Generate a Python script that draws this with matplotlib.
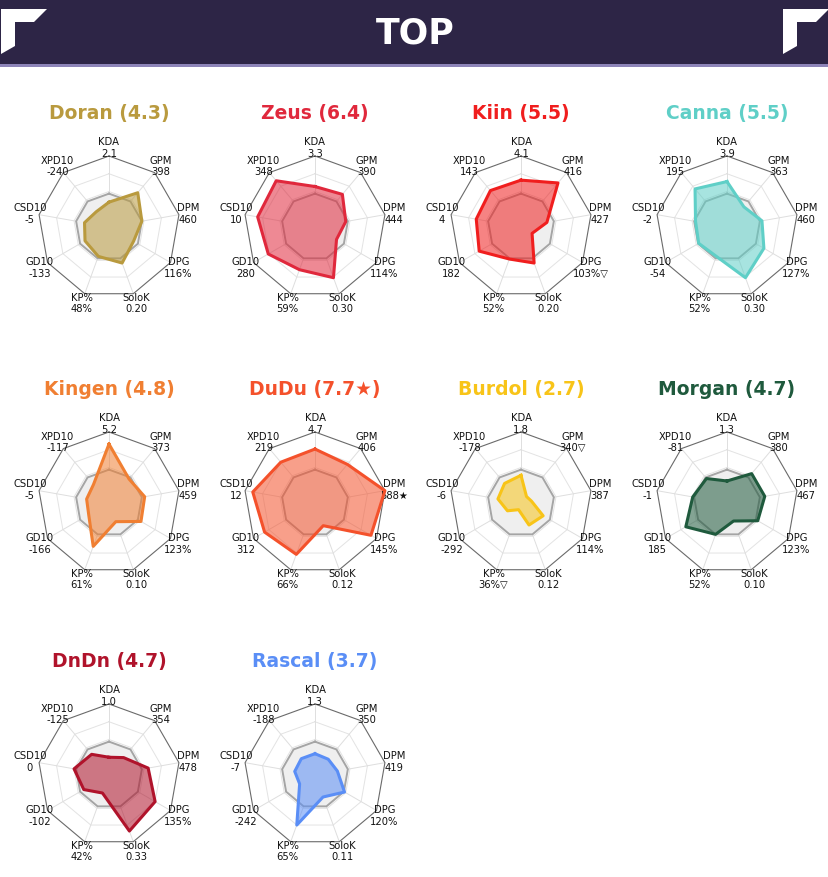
import numpy as np
import matplotlib.pyplot as plt
from matplotlib.patches import Polygon, Rectangle

# stat axes, clockwise from the top
stats = ['KDA', 'GPM', 'DPM', 'DPG', 'SoloK', 'KP%', 'GD10', 'CSD10', 'XPD10']

players = ['Doran', 'Zeus', 'Kiin', 'Canna', 'Kingen', 'DuDu', 'Burdol', 'Morgan', 'DnDn', 'Rascal']
scores = ['4.3', '6.4', '5.5', '5.5', '4.8', '7.7★', '2.7', '4.7', '4.7', '3.7']
colors = ['#b99a3e', '#e0283c', '#f01e1e', '#5fcfc7', '#f07f32',
          '#f4512b', '#f8c418', '#1f5a3d', '#b0132b', '#5a8ef6']

# raw stat values shown under each axis label
doran_vals = ['2.1', '398', '460', '116%', '0.20', '48%', '-133', '-5', '-240']
zeus_vals = ['3.3', '390', '444', '114%', '0.30', '59%', '280', '10', '348']
kiin_vals = ['4.1', '416', '427', '103%▽', '0.20', '52%', '182', '4', '143']
canna_vals = ['3.9', '363', '460', '127%', '0.30', '52%', '-54', '-2', '195']
kingen_vals = ['5.2', '373', '459', '123%', '0.10', '61%', '-166', '-5', '-117']
dudu_vals = ['4.7', '406', '588★', '145%', '0.12', '66%', '312', '12', '219']
burdol_vals = ['1.8', '340▽', '387', '114%', '0.12', '36%▽', '-292', '-6', '-178']
morgan_vals = ['1.3', '380', '467', '123%', '0.10', '52%', '185', '-1', '-81']
dndn_vals = ['1.0', '354', '478', '135%', '0.33', '42%', '-102', '0', '-125']
rascal_vals = ['1.3', '350', '419', '120%', '0.11', '65%', '-242', '-7', '-188']

# normalised radii (0..1)
doran_r = [0.35, 0.63, 0.47, 0.40, 0.54, 0.44, 0.39, 0.35, 0.28]
zeus_r = [0.57, 0.60, 0.44, 0.35, 0.76, 0.64, 0.76, 0.82, 0.85]
kiin_r = [0.66, 0.81, 0.37, 0.18, 0.54, 0.48, 0.68, 0.64, 0.67]
canna_r = [0.64, 0.37, 0.50, 0.60, 0.76, 0.44, 0.46, 0.45, 0.70]
kingen_r = [0.83, 0.44, 0.51, 0.52, 0.28, 0.65, 0.33, 0.32, 0.34]
dudu_r = [0.76, 0.71, 1.00, 0.91, 0.34, 0.77, 0.82, 0.89, 0.75]
burdol_r = [0.39, 0.12, 0.15, 0.36, 0.33, 0.10, 0.22, 0.33, 0.36]
morgan_r = [0.31, 0.54, 0.54, 0.50, 0.27, 0.47, 0.67, 0.49, 0.45]
dndn_r = [0.25, 0.32, 0.56, 0.75, 0.84, 0.27, 0.41, 0.50, 0.38]
rascal_r = [0.30, 0.29, 0.32, 0.48, 0.33, 0.75, 0.25, 0.29, 0.30]

all_vals = [doran_vals, zeus_vals, kiin_vals, canna_vals, kingen_vals,
            dudu_vals, burdol_vals, morgan_vals, dndn_vals, rascal_vals]
all_r = [doran_r, zeus_r, kiin_r, canna_r, kingen_r,
         dudu_r, burdol_r, morgan_r, dndn_r, rascal_r]

AVG = 0.47  # league average ring

W, H = 829, 878
R = 71
col_x = [109, 315, 521, 727]
row_y = [228, 504, 776]

fig = plt.figure(figsize=(W / 100, H / 100), dpi=100)

# background / header
bg = fig.add_axes([0, 0, 1, 1])
bg.set_xlim(0, W)
bg.set_ylim(H, 0)
bg.axis('off')
bg.add_patch(Rectangle((0, 0), W, 66, color='#2d2546', lw=0))
bg.add_patch(Rectangle((0, 65), W, 3, color='#8d84b8', lw=0))
for x0 in (1, 783):
    pts = [(x0, 10), (x0 + 46, 10), (x0 + 33, 23), (x0 + 14, 23),
           (x0 + 14, 47), (x0, 55)]
    bg.add_patch(Polygon(pts, closed=True, color='white', lw=0))
bg.text(415, 34, 'TOP', color='white', fontsize=25, fontweight='heavy',
        ha='center', va='center')

angles = np.deg2rad(np.arange(len(stats)) * 40.0)
angc = np.append(angles, angles[0])


def radar(cx, cy, name, score, color, vals, r):
    ax = fig.add_axes([(cx - R) / W, 1 - (cy + R) / H, 2 * R / W, 2 * R / H],
                      projection='polar')
    ax.set_theta_zero_location('N')
    ax.set_theta_direction(-1)
    ax.set_ylim(0, 1)
    ax.axis('off')

    # grid rings and spokes
    for g in [0.25, 0.5, 0.75]:
        ax.plot(angc, [g] * len(angc), color='#e3e3e3', lw=0.7, zorder=1)
    for a in angles:
        ax.plot([a, a], [0, 1], color='#dedede', lw=0.7, zorder=1)
    ax.fill(angc, [AVG] * len(angc), color='#efefef', lw=0, zorder=1.5)
    ax.plot(angc, [AVG] * len(angc), color='#a5a5a5', lw=1.4, zorder=2)
    ax.plot(angc, [1] * len(angc), color='#6a6a6a', lw=0.8, zorder=2,
            clip_on=False)

    rc = list(r) + [r[0]]
    ax.fill(angc, rc, color=color, alpha=0.55, lw=0, zorder=3)
    ax.plot(angc, rc, color=color, lw=2.2, zorder=4, clip_on=False)

    for a, s, v in zip(angles, stats, vals):
        ax.text(a, 1.13, f'{s}\n{v}', ha='center', va='center',
                fontsize=7.2, color='#111111')

    bg.text(cx, cy - 114, f'{name} ({score})', color=color, fontsize=13.5,
            fontweight='bold', ha='center', va='center')


for i, name in enumerate(players):
    cx = col_x[i % 4]
    cy = row_y[i // 4]
    radar(cx, cy, name, scores[i], colors[i], all_vals[i], all_r[i])

fig.savefig('out.png', dpi=100)
